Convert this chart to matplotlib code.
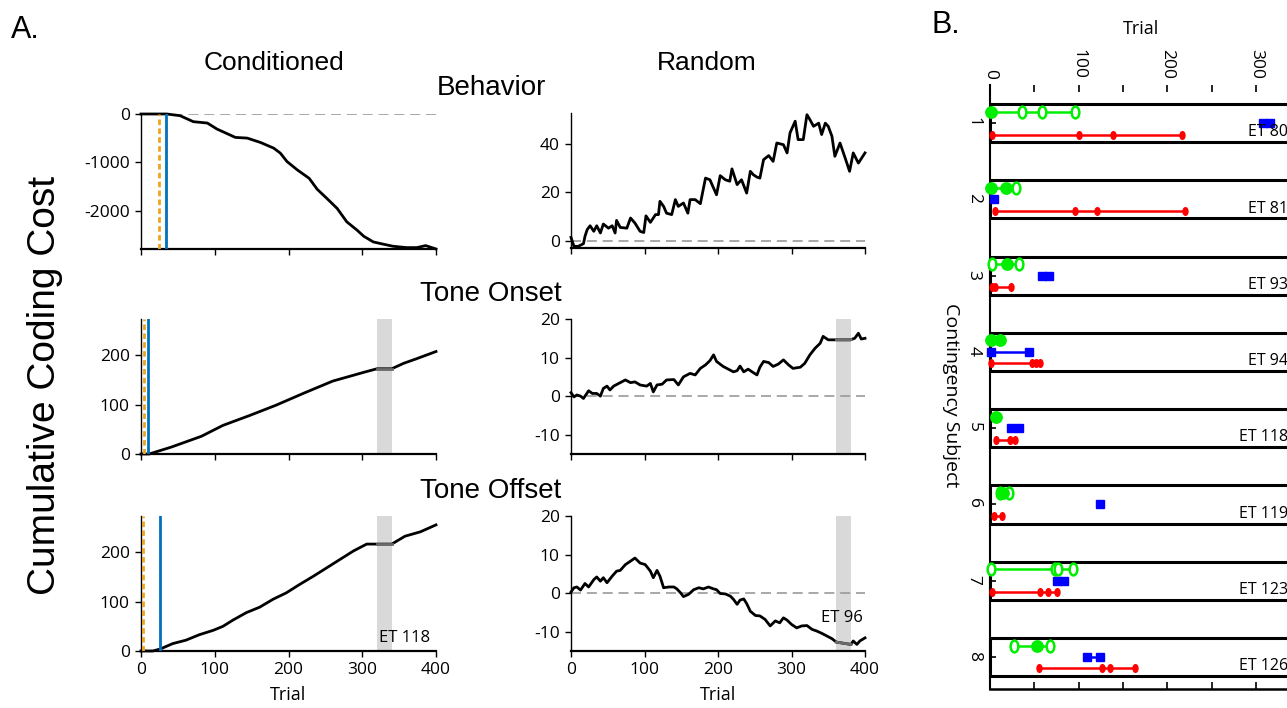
import numpy as np
import matplotlib.pyplot as plt
from matplotlib.path import Path
from matplotlib.patches import Rectangle

W, H = 1287, 708

# ---------------- panel A data ----------------
# Behavior, conditioned
beh_cond_t = [0, 35, 53, 71, 90, 103, 117, 128, 144, 162, 180, 189, 198, 212, 228, 239,
              252, 266, 279, 293, 302, 315, 329, 342, 360, 374, 386, 400]
beh_cond_v = [0, 0, -35, -159, -187, -311, -408, -484, -498, -588, -706, -810, -983, -1156,
              -1329, -1557, -1744, -1952, -2228, -2401, -2526, -2644, -2692, -2734, -2761,
              -2761, -2720, -2790]

# Behavior, random
beh_rand_t = [0, 4, 10, 17, 19, 22, 26, 31, 35, 40, 44, 51, 56, 60, 62, 67, 76, 81, 87, 94,
              99, 102, 108, 115, 119, 121, 126, 130, 137, 142, 146, 153, 159, 162, 169, 176,
              183, 189, 198, 203, 210, 216, 219, 226, 232, 239, 244, 248, 253, 257, 262, 269,
              275, 280, 289, 294, 298, 305, 309, 316, 321, 325, 330, 337, 341, 346, 350, 355,
              359, 366, 373, 379, 384, 391, 400]
beh_rand_v = [1.4, -2.3, -2.3, -1.2, 1.8, 4.6, 6.2, 3.9, 6.2, 3.2, 6.9, 5.2, 6.2, 3.2, 8.4,
              5.5, 5.2, 9.4, 7.3, 3.9, 3.4, 10.3, 7.6, 10.8, 10.8, 16.3, 14.2, 11.4, 10.8,
              17.0, 14.2, 15.6, 11.4, 17.0, 17.0, 15.3, 25.9, 25.2, 19.0, 26.9, 25.2, 24.6,
              29.7, 23.2, 25.2, 19.7, 28.7, 27.3, 26.3, 25.9, 33.5, 35.2, 32.8, 40.4, 39.7,
              36.3, 44.6, 49.4, 41.8, 41.8, 52.1, 50.1, 47.3, 48.6, 43.9, 48.6, 47.3, 43.2,
              34.9, 40.4, 34.2, 28.7, 36.3, 32.1, 36.3]

# Tone onset, conditioned
on_cond_t = [0, 11, 41, 82, 111, 147, 183, 220, 260, 305, 320, 340, 356, 373, 400]
on_cond_v = [0, 0, 14, 36, 58, 78, 99, 123, 148, 167, 173, 173, 184, 193, 208]

# Tone onset, random
on_rand_t = [0, 4, 8, 13, 17, 24, 29, 35, 40, 44, 49, 53, 58, 65, 74, 81, 87, 94, 103, 108,
             112, 117, 124, 130, 140, 146, 153, 162, 169, 176, 183, 189, 194, 198, 207, 214,
             221, 226, 230, 235, 241, 248, 253, 257, 262, 269, 275, 282, 289, 296, 302, 312,
             318, 325, 332, 339, 343, 350, 361, 380, 386, 391, 395, 400]
on_rand_v = [0.9, -0.2, 0.3, 0.0, -0.6, 1.4, 0.7, 0.7, 0.0, 2.0, 2.6, 1.6, 2.6, 3.3, 4.2,
             3.5, 3.7, 2.9, 2.6, 3.3, 1.1, 2.9, 3.1, 4.2, 4.3, 2.9, 5.0, 5.9, 5.5, 7.2, 8.1,
             9.2, 10.7, 9.0, 7.7, 7.0, 6.3, 6.6, 7.8, 6.3, 7.0, 6.1, 5.5, 7.5, 9.0, 8.7, 7.7,
             8.3, 9.4, 8.1, 7.2, 7.5, 8.5, 10.7, 12.4, 13.7, 15.5, 14.6, 14.6, 14.6, 15.0,
             16.3, 14.8, 15.0]

# Tone offset, conditioned
off_cond_t = [0, 16, 26, 43, 61, 79, 98, 111, 125, 143, 161, 179, 197, 215, 234, 252, 270,
              288, 306, 320, 340, 358, 379, 400]
off_cond_v = [0, 0, 4, 15, 22, 33, 42, 50, 63, 78, 89, 105, 118, 135, 152, 169, 186, 203,
              217, 217, 217, 233, 242, 256]

# Tone offset, random
off_rand_t = [0, 4, 8, 13, 19, 24, 31, 35, 40, 44, 49, 56, 62, 67, 74, 81, 87, 94, 101, 108,
              112, 117, 121, 126, 133, 140, 144, 149, 153, 160, 167, 174, 180, 187, 194, 198,
              203, 210, 217, 221, 226, 230, 235, 239, 244, 251, 257, 264, 271, 278, 284, 289,
              294, 300, 307, 314, 321, 328, 334, 341, 348, 355, 361, 381, 384, 389, 393, 400]
off_rand_v = [0.3, 1.4, 1.6, 0.8, 2.5, 1.6, 3.5, 4.2, 3.1, 4.0, 2.7, 4.4, 5.7, 5.9, 7.4, 8.3,
              9.1, 7.8, 7.4, 5.7, 4.0, 5.9, 4.4, 1.4, 1.6, 1.6, 1.1, 0.1, -0.9, -0.3, 0.9, 1.4,
              1.1, 1.6, 1.1, 0.9, -0.1, -0.2, -0.8, -1.6, -2.9, -1.8, -1.5, -2.7, -4.7, -5.8,
              -5.9, -6.8, -8.5, -7.2, -7.7, -6.4, -7.0, -8.1, -9.0, -8.5, -8.4, -9.4, -9.8,
              -10.4, -11.1, -11.8, -12.7, -13.3, -12.4, -13.3, -12.4, -11.6]

# markers in the conditioned panels (trial numbers)
orange_trial = [24, 4, 3]
blue_trial = [34, 9, 26]
# excluded windows (grey bands)
band_cond = (320, 340)
band_rand = (361, 381)

# ---------------- panel B data ----------------
subjects = [1, 2, 3, 4, 5, 6, 7, 8]
et_labels = ['ET 80', 'ET 81', 'ET 93', 'ET 94', 'ET 118', 'ET 119', 'ET 123', 'ET 126']
green_open = [[36, 59, 96], [29], [2, 33], [], [], [11, 21], [1, 73, 77, 94], [27, 68]]
green_full = [[1], [1, 18], [19], [1, 11], [7], [15], [], [53]]
blue_pts = [[308, 316], [4], [59, 66], [1, 44], [24, 33], [124], [75, 83], [109, 124]]
red_pts = [[2, 100, 139, 216], [6, 96, 121, 220], [2, 6, 24], [1, 47, 52, 56], [7, 23, 28],
           [5, 14], [2, 56, 65, 75], [55, 126, 135, 164]]

plt.rcParams['font.family'] = ['Open Sans', 'DejaVu Sans']
plt.rcParams['axes.unicode_minus'] = False
TITLE_FONT = 'Liberation Sans'

fig = plt.figure(figsize=(W / 100, H / 100), dpi=100)


def px_axes(l, t, r, b):
    return fig.add_axes([l / W, 1 - b / H, (r - l) / W, (b - t) / H])


ORANGE = '#EDA520'
BLUE = '#0072BD'


def style_a(ax, ylim, yticks, xlabels):
    ax.set_xlim(0, 400)
    ax.set_ylim(*ylim)
    ax.set_yticks(yticks)
    ax.set_xticks([0, 100, 200, 300, 400])
    if not xlabels:
        ax.set_xticklabels([])
    else:
        ax.set_xlabel('Trial', fontsize=13, labelpad=6)
    for s in ['top', 'right']:
        ax.spines[s].set_visible(False)
    ax.spines['left'].set_linewidth(1.0)
    ax.spines['bottom'].set_linewidth(1.6)
    ax.tick_params(direction='out', length=4, width=1, labelsize=12.5, pad=4)
    ax.set_facecolor('none')


def trace(ax, t, v, band=None):
    ax.plot(t, v, color='black', lw=2.0, zorder=3, clip_on=False)
    if band is not None:
        ax.axvspan(band[0], band[1], color='#d9d9d9', lw=0, zorder=1)
        t = np.array(t, float)
        v = np.array(v, float)
        tb = np.linspace(band[0], band[1], 20)
        ax.plot(tb, np.interp(tb, t, v), color='#6b6b6b', lw=2.0, zorder=4)


def zero_line(ax):
    ax.axhline(0, color='#999999', lw=1.2, ls=(0, (6, 3.5)), zorder=2)


def marks(ax, i):
    ax.axvline(orange_trial[i], color=ORANGE, lw=2, ls=(0, (2, 1.2)), zorder=5)
    ax.axvline(blue_trial[i], color=BLUE, lw=2, zorder=5)


# row 1: behavior
ax = px_axes(141, 114, 436, 249)
zero_line(ax)
trace(ax, beh_cond_t, beh_cond_v)
marks(ax, 0)
style_a(ax, (-2790, 0), [-2000, -1000, 0], False)

ax = px_axes(571, 113, 865, 248)
zero_line(ax)
trace(ax, beh_rand_t, beh_rand_v)
style_a(ax, (-3, 52.8), [0, 20, 40], False)

# row 2: tone onset
ax = px_axes(141, 319, 436, 454)
trace(ax, on_cond_t, on_cond_v, band_cond)
marks(ax, 1)
style_a(ax, (0, 274), [0, 100, 200], False)

ax = px_axes(571, 319, 865, 454)
zero_line(ax)
trace(ax, on_rand_t, on_rand_v, band_rand)
style_a(ax, (-15, 20), [-10, 0, 10, 20], False)

# row 3: tone offset
ax = px_axes(141, 516, 436, 651)
trace(ax, off_cond_t, off_cond_v, band_cond)
marks(ax, 2)
style_a(ax, (0, 274), [0, 100, 200], True)
ax.text(392, 10, 'ET 118', ha='right', va='bottom', fontsize=12, zorder=6)

ax = px_axes(571, 516, 865, 651)
zero_line(ax)
trace(ax, off_rand_t, off_rand_v, band_rand)
style_a(ax, (-15, 20), [-10, 0, 10, 20], True)
ax.text(368, -6.4, 'ET 96', ha='center', va='center', fontsize=12, zorder=6)

# headings
fig.text(25 / W, 1 - 30 / H, 'A.', fontsize=22, family=TITLE_FONT, ha='center', va='center')
fig.text(946 / W, 1 - 25 / H, 'B.', fontsize=22, family=TITLE_FONT, ha='center', va='center')
fig.text(274 / W, 1 - 63 / H, 'Conditioned', fontsize=19, family=TITLE_FONT, ha='center', va='center')
fig.text(707 / W, 1 - 63 / H, 'Random', fontsize=19, family=TITLE_FONT, ha='center', va='center')
fig.text(491 / W, 1 - 88 / H, 'Behavior', fontsize=20, family=TITLE_FONT, ha='center', va='center')
fig.text(491 / W, 1 - 294 / H, 'Tone Onset', fontsize=20, family=TITLE_FONT, ha='center', va='center')
fig.text(491 / W, 1 - 491 / H, 'Tone Offset', fontsize=20, family=TITLE_FONT, ha='center', va='center')
fig.text(45 / W, 1 - 385 / H, 'Cumulative Coding Cost', fontsize=28, family=TITLE_FONT,
         rotation=90, ha='center', va='center')

# ---------------- panel B ----------------
axb = px_axes(990, 85, 1340, 689)
xmax = (1340 - 990) / 0.8867
axb.set_xlim(0, xmax)
axb.set_ylim(8.42, 0.5)

ell = Path(Path.unit_circle().vertices * np.array([0.65, 1.0]), Path.unit_circle().codes)

for i, s in enumerate(subjects):
    axb.add_patch(Rectangle((0, s - 0.25), 500, 0.5, fill=False, ec='black', lw=2.2,
                            clip_on=False, zorder=2))
    g = green_open[i] + green_full[i]
    axb.plot([min(g), max(g)], [s - 0.15] * 2, color='#00ee00', lw=1.8, zorder=3, clip_on=False)
    axb.plot(green_open[i], [s - 0.15] * len(green_open[i]), ls='none', marker=ell, ms=8.5,
             mfc='white', mec='#00ee00', mew=1.8, zorder=4, clip_on=False)
    axb.plot(green_full[i], [s - 0.15] * len(green_full[i]), ls='none', marker='o', ms=8,
             mfc='#00ee00', mec='#00ee00', mew=1.2, zorder=4, clip_on=False)
    b = blue_pts[i]
    axb.plot(b, [s] * len(b), color='#0000ff', lw=1.8, marker='s', ms=5.5, zorder=4,
             clip_on=False)
    r = red_pts[i]
    axb.plot(r, [s + 0.15] * len(r), color='#ff0000', lw=1.8, marker=ell, ms=5.5, zorder=4,
             clip_on=False)
    axb.text(335.8, s + 0.12, et_labels[i], ha='right', va='center', fontsize=11.5, zorder=5)

axb.spines['top'].set_visible(False)
axb.spines['right'].set_visible(False)
axb.spines['left'].set_linewidth(1.5)
axb.spines['bottom'].set_linewidth(1.8)
axb.set_xticks([0, 100, 200, 300])
axb.set_xticks([50, 150, 250, 350], minor=True)
axb.set_yticks(subjects)
axb.tick_params(axis='x', which='both', top=True, bottom=True, labeltop=True,
                labelbottom=False, direction='in', length=5, width=1.2,
                labelrotation=-90, labelsize=12.5, pad=4)
axb.tick_params(axis='y', direction='in', length=4, width=1.2, labelrotation=-90,
                labelsize=12.5, pad=6)
axb.set_facecolor('none')

fig.text(1141 / W, 1 - 29 / H, 'Trial', fontsize=13, ha='center', va='center')
fig.text(951 / W, 1 - 395 / H, 'Contingency Subject', fontsize=14, rotation=-90,
         ha='center', va='center')

fig.savefig('out.png', dpi=100)
